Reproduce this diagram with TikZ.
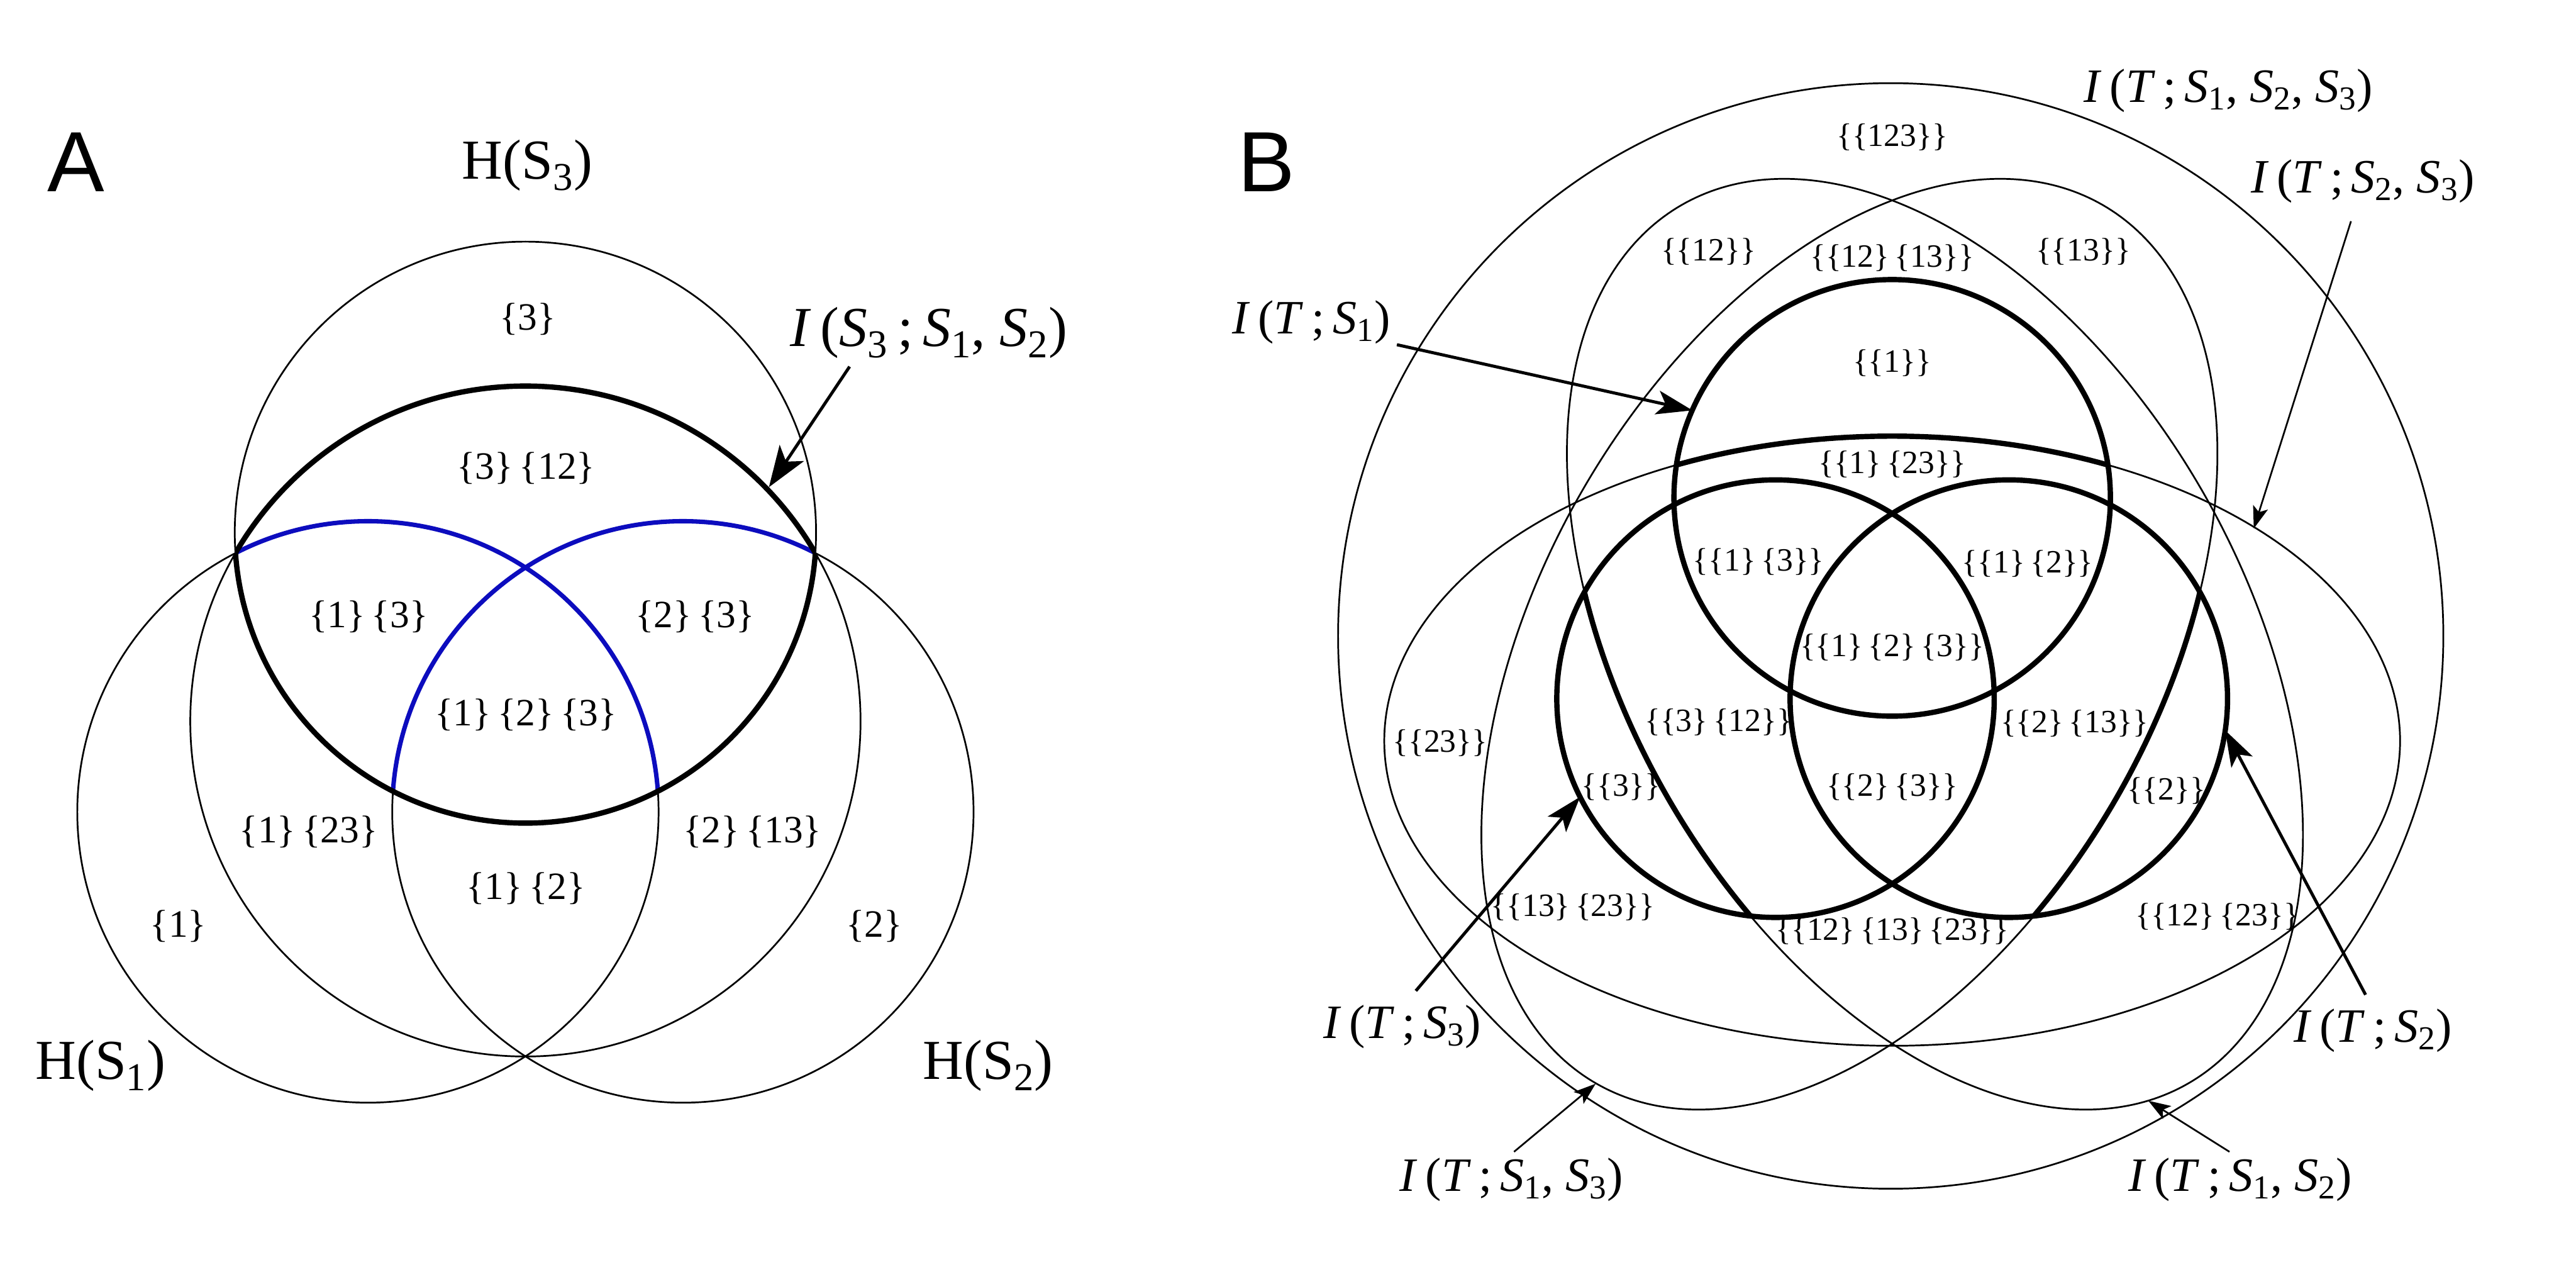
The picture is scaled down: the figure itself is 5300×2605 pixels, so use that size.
\documentclass[tikz,border=0pt]{standalone}
\usepackage{fontspec}
\setmainfont{Liberation Serif}
\newfontfamily\panelfont{Liberation Sans}
\usetikzlibrary{arrows.meta}
\definecolor{vennblue}{RGB}{12,12,190}
\newcommand{\Sx}[1]{\textit{S}\textsubscript{#1}}
\begin{document}
\begin{tikzpicture}[x=0.01cm,y=-0.01cm,
  thinline/.style={line width=1pt,black},
  boldline/.style={line width=3.1pt,black},
  blueline/.style={line width=2.6pt,draw=vennblue},
  regA/.style={font=\fontsize{22.6}{26}\selectfont,inner sep=0pt},
  regB/.style={font=\fontsize{19}{22}\selectfont,inner sep=0pt},
  labA/.style={font=\fontsize{33}{38}\selectfont,inner sep=0pt},
  labB/.style={font=\fontsize{28}{33}\selectfont,inner sep=0pt},
  panel/.style={font=\panelfont\fontsize{50}{60}\selectfont,inner sep=0pt},
  bigarrowA/.style={line width=1.8pt,-{Stealth[length=24pt,width=17pt,inset=6pt]}},
  bigarrow/.style={line width=1.8pt,-{Stealth[length=21pt,width=14pt,inset=5pt]}},
  smallarrow/.style={line width=1pt,-{Stealth[length=13pt,width=9pt,inset=3pt]}}
]
\fill[white] (0,0) rectangle (5300,2605);
\useasboundingbox (0,0) rectangle (5300,2605);

% ================= Panel A =================
% thin full curves
\draw[thinline] (757,1670) circle[radius=598];
\draw[thinline] (1405,1670) circle[radius=598];
\draw[thinline] (1081,1095) circle[radius=598];
\draw[thinline] (1081,1483.5) circle[radius=689.5];
% blue parts of H(S1), H(S2) inside H(S3)
\begin{scope}
  \clip (1081,1095) circle[radius=598];
  \draw[blueline] (757,1670) circle[radius=598];
  \draw[blueline] (1405,1670) circle[radius=598];
\end{scope}
% bold boundary of I(S3;S1,S2)
\begin{scope}
  \clip (1081,1483.5) circle[radius=689.5];
  \draw[boldline] (1081,1095) circle[radius=598];
\end{scope}
\begin{scope}
  \clip (1081,1095) circle[radius=598];
  \draw[boldline] (1081,1483.5) circle[radius=689.5];
\end{scope}

\node[panel] (pA) at (156,333) {A};
\node[labA] (hs3) at (1085,340) {H(S\textsubscript{3})};
\node[labA] (hs1) at (207,2192) {H(S\textsubscript{1})};
\node[labA] (hs2) at (2033,2192) {H(S\textsubscript{2})};
\node[labA] (iA) at (1911,684) {\textit{I}\,(\Sx{3}\,;\,\Sx{1}, \Sx{2})};

\node[regA] (a3) at (1086,656) {\{3\}};
\node[regA] (a312) at (1082,963) {\{3\}\,\{12\}};
\node[regA] (a13) at (758,1269) {\{1\}\,\{3\}};
\node[regA] (a23) at (1430,1269) {\{2\}\,\{3\}};
\node[regA] (a123) at (1082,1470) {\{1\}\,\{2\}\,\{3\}};
\node[regA] (a123b) at (635,1711) {\{1\}\,\{23\}};
\node[regA] (a213) at (1548,1711) {\{2\}\,\{13\}};
\node[regA] (a12) at (1082,1827) {\{1\}\,\{2\}};
\node[regA] (a1) at (367,1905) {\{1\}};
\node[regA] (a2) at (1799,1905) {\{2\}};

\coordinate (aAs) at (1748,754);
\coordinate (aAt) at (1582,1002);
\draw[bigarrowA] (aAs) -- (aAt);

% ================= Panel B =================
% outer circle
\draw[thinline] (3890,1308) circle[radius=1137];
% ellipses
\draw[thinline] plot[domain=0:360,samples=361] ({3893+1045*cos(\x)},{1524+627*sin(\x)}) -- cycle;
\draw[thinline] plot[domain=0:360,samples=361] ({3805+521.5*cos(\x)+549*sin(\x)},{1325-903.2*cos(\x)+317*sin(\x)}) -- cycle;
\draw[thinline] plot[domain=0:360,samples=361] ({3981+521.5*cos(\x)-549*sin(\x)},{1325+903.2*cos(\x)+317*sin(\x)}) -- cycle;
% bold parts of ellipses
\begin{scope}
  \clip (3893,1024) circle[radius=449];
  \draw[boldline] plot[domain=0:360,samples=361] ({3893+1045*cos(\x)},{1524+627*sin(\x)}) -- cycle;
\end{scope}
\begin{scope}
  \clip (4133,1437) circle[radius=450];
  \draw[boldline] plot[domain=0:360,samples=361] ({3805+521.5*cos(\x)+549*sin(\x)},{1325-903.2*cos(\x)+317*sin(\x)}) -- cycle;
\end{scope}
\begin{scope}
  \clip (3653,1437) circle[radius=450];
  \draw[boldline] plot[domain=0:360,samples=361] ({3981+521.5*cos(\x)-549*sin(\x)},{1325+903.2*cos(\x)+317*sin(\x)}) -- cycle;
\end{scope}
% bold circles
\draw[boldline] (3893,1024) circle[radius=449];
\draw[boldline] (3653,1437) circle[radius=450];
\draw[boldline] (4133,1437) circle[radius=450];

\node[panel] (pB) at (2606,333) {B};
\node[labB] (l123) at (4585,187) {\textit{I}\,(\textit{T}\,;\,\Sx{1}, \Sx{2}, \Sx{3})};
\node[labB] (l23) at (4861,373) {\textit{I}\,(\textit{T}\,;\,\Sx{2}, \Sx{3})};
\node[labB] (l1) at (2698,663) {\textit{I}\,(\textit{T}\,;\,\Sx{1})};
\node[labB] (l3) at (2885,2112) {\textit{I}\,(\textit{T}\,;\,\Sx{3})};
\node[labB] (l2) at (4882,2120) {\textit{I}\,(\textit{T}\,;\,\Sx{2})};
\node[labB] (l13) at (3110,2427) {\textit{I}\,(\textit{T}\,;\,\Sx{1}, \Sx{3})};
\node[labB] (l12) at (4609,2427) {\textit{I}\,(\textit{T}\,;\,\Sx{1}, \Sx{2})};

\node[regB] (b123) at (3893,282) {\{\{123\}\}};
\node[regB] (b12) at (3515,518) {\{\{12\}\}};
\node[regB] (b13) at (4286,518) {\{\{13\}\}};
\node[regB] (b1213) at (3893,530) {\{\{12\}\,\{13\}\}};
\node[regB] (b1) at (3893,747) {\{\{1\}\}};
\node[regB] (b123b) at (3893,955) {\{\{1\}\,\{23\}\}};
\node[regB] (b1x3) at (3618,1155) {\{\{1\}\,\{3\}\}};
\node[regB] (b1x2) at (4172,1159) {\{\{1\}\,\{2\}\}};
\node[regB] (b1x2x3) at (3893,1332) {\{\{1\}\,\{2\}\,\{3\}\}};
\node[regB] (b3x12) at (3536,1485) {\{\{3\}\,\{12\}\}};
\node[regB] (b2x13) at (4268,1488) {\{\{2\}\,\{13\}\}};
\node[regB] (b2x3) at (3893,1619) {\{\{2\}\,\{3\}\}};
\node[regB] (b3) at (3335,1619) {\{\{3\}\}};
\node[regB] (b2) at (4457,1627) {\{\{2\}\}};
\node[regB] (b23) at (2963,1528) {\{\{23\}\}};
\node[regB] (b13x23) at (3236,1866) {\{\{13\}\,\{23\}\}};
\node[regB] (b12x23) at (4562,1885) {\{\{12\}\,\{23\}\}};
\node[regB] (b12x13x23) at (3893,1915) {\{\{12\}\,\{13\}\,\{23\}\}};

\coordinate (a1s) at (2874,709);   \coordinate (a1t) at (3482,844);
\coordinate (a3s) at (2913,2038);  \coordinate (a3t) at (3251,1639);
\coordinate (a2s) at (4867,2046);  \coordinate (a2t) at (4578,1502);
\coordinate (a23s) at (4837,455);  \coordinate (a23t) at (4637,1087);
\coordinate (a13s) at (3115,2369); \coordinate (a13t) at (3283,2229);
\coordinate (a12s) at (4587,2369); \coordinate (a12t) at (4420,2264);
\draw[bigarrow] (a1s) -- (a1t);
\draw[bigarrow] (a3s) -- (a3t);
\draw[bigarrow] (a2s) -- (a2t);
\draw[smallarrow] (a23s) -- (a23t);
\draw[smallarrow] (a13s) -- (a13t);
\draw[smallarrow] (a12s) -- (a12t);
\end{tikzpicture}
\end{document}
